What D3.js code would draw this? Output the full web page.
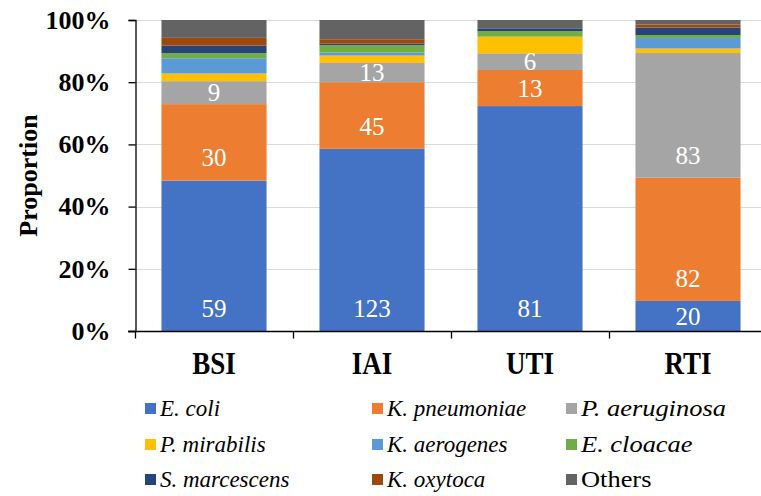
<!DOCTYPE html>
<html>
<head>
<meta charset="utf-8">
<script src="https://cdn.jsdelivr.net/npm/d3@7"></script>
<style>
  html, body { margin: 0; padding: 0; background: #fff; }
  svg { display: block; }
</style>
</head>
<body>
<svg id="chart" width="761" height="496"></svg>
<script>
// Infection sites along the x axis
const categories = ["BSI", "IAI", "UTI", "RTI"];

// Organism names (legend order = stacking order from the bottom)
const species = ["E. coli", "K. pneumoniae", "P. aeruginosa", "P. mirabilis",
  "K. aerogenes", "E. cloacae", "S. marcescens", "K. oxytoca", "Others"];

// Isolate counts per site, one array per organism (BSI, IAI, UTI, RTI)
const eColi        = [59, 123, 81, 20];
const kPneumoniae  = [30, 45, 13, 82];
const pAeruginosa  = [9, 13, 6, 83];
const pMirabilis   = [3, 5, 6, 3];
const kAerogenes   = [6, 2, 0, 7];
const eCloacae     = [2, 5, 2, 2];
const sMarcescens  = [3, 1, 1, 5];
const kOxytoca     = [3, 3, 0, 2];
const others       = [7, 13, 3, 3];

const yTickLabels = ["0%", "20%", "40%", "60%", "80%", "100%"];

const seriesCounts = [eColi, kPneumoniae, pAeruginosa, pMirabilis,
  kAerogenes, eCloacae, sMarcescens, kOxytoca, others];
const colors = ["#4472C4", "#ED7D31", "#A5A5A5", "#FFC000", "#5B9BD5",
  "#70AD47", "#264478", "#9E480E", "#636363"];
// Only the three leading organisms carry count labels
const labelledSeries = 3;

const FONT = "'Liberation Serif', Tinos, 'Times New Roman', serif";

// Table rows: one per site, keyed by organism
const rows = categories.map((c, i) => {
  const r = { site: c };
  species.forEach((s, k) => { r[s] = seriesCounts[k][i]; });
  return r;
});

const svg = d3.select("#chart").attr("font-family", FONT);
const W = 761;
const plot = { left: 135, top: 20, bottom: 331, right: 767 };

const x = d3.scaleBand()
  .domain(categories)
  .range([plot.left, plot.right])
  .paddingInner(0.335)
  .paddingOuter(0.1675);

const y = d3.scaleLinear().domain([0, 1]).range([plot.bottom, plot.top]);

const stacked = d3.stack()
  .keys(species)
  .offset(d3.stackOffsetExpand)(rows);

// Horizontal gridlines
svg.append("g")
  .selectAll("line")
  .data(d3.range(0.2, 1.01, 0.2))
  .join("line")
  .attr("x1", plot.left).attr("x2", W)
  .attr("y1", d => Math.round(y(d)) + 0.5).attr("y2", d => Math.round(y(d)) + 0.5)
  .attr("stroke", "#d9d9d9").attr("stroke-width", 1.2);

// Stacked bars
const layers = svg.append("g")
  .selectAll("g")
  .data(stacked)
  .join("g")
  .attr("fill", (d, i) => colors[i]);

layers.selectAll("rect")
  .data(d => d)
  .join("rect")
  .attr("x", d => x(d.data.site))
  .attr("width", x.bandwidth())
  .attr("y", d => y(d[1]))
  .attr("height", d => Math.max(0, y(d[0]) - y(d[1])));

// Count labels anchored near the base of each segment
const labelGroup = svg.append("g");
stacked.slice(0, labelledSeries).forEach((layer) => {
  labelGroup.selectAll(null)
    .data(layer)
    .join("text")
    .attr("x", d => x(d.data.site) + x.bandwidth() / 2)
    .attr("y", d => {
      const bottom = y(d[0]);
      const h = y(d[0]) - y(d[1]);
      return bottom - Math.min(23, h / 2);
    })
    .attr("dy", "0.35em")
    .attr("text-anchor", "middle")
    .attr("fill", "#fff")
    .attr("font-family", FONT)
    .attr("font-size", 25)
    .text(d => d.data[layer.key]);
});

// Y axis
const yAxis = d3.axisLeft(y)
  .tickValues(d3.range(0, 1.01, 0.2))
  .tickFormat((d, i) => yTickLabels[i])
  .tickSize(7)
  .tickPadding(18);
const gy = svg.append("g")
  .attr("transform", `translate(${plot.left + 0.5},0)`)
  .call(yAxis)
  .attr("font-family", FONT);
gy.select(".domain").attr("stroke", "#000").attr("stroke-width", 1.3);
gy.selectAll(".tick line").attr("stroke", "#000").attr("stroke-width", 1.3);
gy.selectAll(".tick text")
  .attr("font-family", FONT)
  .attr("font-size", 26).attr("font-weight", "bold").attr("fill", "#000");

// X axis with ticks between categories
const gx = svg.append("g")
  .attr("transform", `translate(0,${plot.bottom + 0.5})`);
gx.append("line")
  .attr("x1", plot.left - 7).attr("x2", W)
  .attr("stroke", "#000").attr("stroke-width", 1.3);
const boundaries = categories.map(c => x(c) - x.step() * x.paddingInner() / 2);
gx.selectAll("line.tick")
  .data(boundaries)
  .join("line")
  .attr("class", "tick")
  .attr("x1", d => Math.round(d) + 0.5).attr("x2", d => Math.round(d) + 0.5)
  .attr("y1", 0).attr("y2", 7)
  .attr("stroke", "#000").attr("stroke-width", 1.3);
gx.selectAll("text")
  .data(categories)
  .join("text")
  .attr("transform", d => `translate(${x(d) + x.bandwidth() / 2},42) scale(1,1.15)`)
  .attr("text-anchor", "middle")
  .attr("font-family", FONT)
  .attr("font-size", 27)
  .attr("font-weight", "bold")
  .attr("fill", "#000")
  .text(d => d);

// Y axis title
svg.append("text")
  .attr("transform", `translate(37,${(plot.top + plot.bottom) / 2}) rotate(-90)`)
  .attr("text-anchor", "middle")
  .attr("font-family", FONT)
  .attr("font-size", 26)
  .attr("font-weight", "bold")
  .attr("fill", "#000")
  .text("Proportion");

// Legend: three columns, three rows; the right column is set slightly wider
const legendCols = [145, 372, 566];
const legendRows = [416, 452, 487];
const colStretch = [1, 1, 1.15];
const legend = svg.append("g")
  .selectAll("g")
  .data(species)
  .join("g")
  .attr("transform", (d, i) => `translate(${legendCols[i % 3]},${legendRows[Math.floor(i / 3)]})`);
legend.append("rect")
  .attr("x", 0).attr("y", -13)
  .attr("width", 11).attr("height", 11)
  .attr("fill", (d, i) => colors[i]);
legend.append("text")
  .attr("transform", (d, i) => `translate(15,0) scale(${colStretch[i % 3]},1)`)
  .attr("font-family", FONT)
  .attr("font-size", 23)
  .attr("font-style", d => d === "Others" ? "normal" : "italic")
  .attr("fill", "#000")
  .text(d => d);
</script>
</body>
</html>
